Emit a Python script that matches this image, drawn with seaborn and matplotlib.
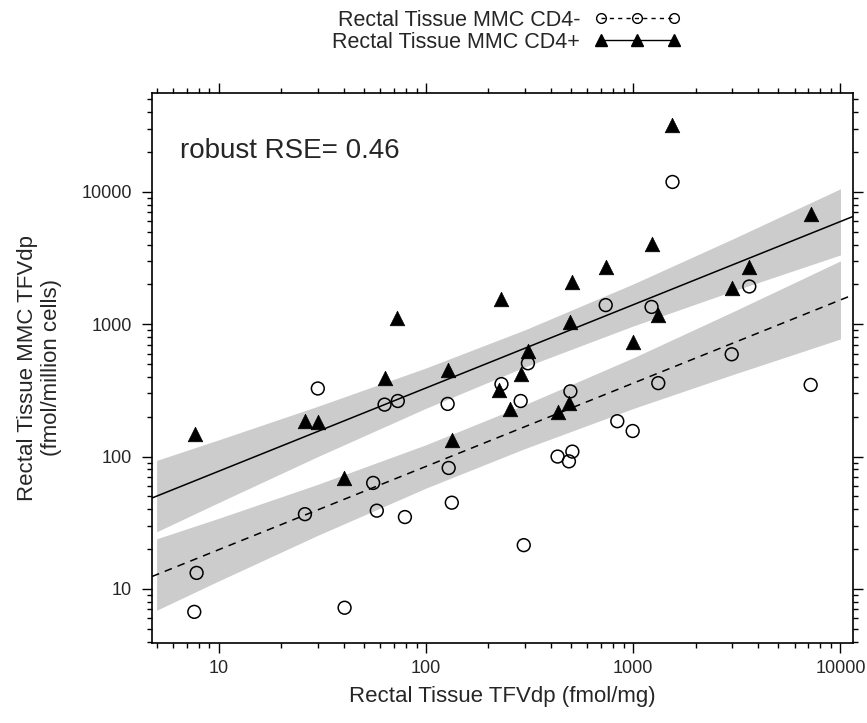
import numpy as np
import seaborn as sns
import matplotlib.pyplot as plt
from matplotlib.lines import Line2D
from matplotlib.ticker import FixedLocator, FixedFormatter, LogLocator, NullFormatter

# CD4- (open circles)
neg_x = [7.8, 7.6, 26, 30, 40.4, 55.5, 57.8, 63, 73, 79,
         127, 128.5, 133, 231, 286, 296, 310, 431, 489, 497,
         508, 736, 837, 993, 1225, 1320, 1546, 2985, 3630, 7180]
neg_y = [13.2, 6.7, 36.7, 327, 7.2, 63.2, 39, 247, 263, 34.9,
         250, 82, 44.8, 353, 263, 21.4, 507, 100, 92, 311,
         109, 1396, 185, 156, 1352, 359, 11900, 593, 1930, 348]

# CD4+ (filled triangles)
pos_x = [7.7, 26, 30, 40, 63, 72.4, 127, 133, 224, 230, 254, 286, 310,
         433, 490, 497, 508, 736, 993, 1225, 1320, 1546, 2985, 3630, 7180]
pos_y = [147, 186, 181, 68.6, 395, 1122, 448, 133, 321, 1563, 230, 420, 627,
         218, 255, 1033, 2070, 2690, 738, 4040, 1172, 31800, 1884, 2690, 6800]

# fitted lines (ends at the panel edges) and their confidence bands
fit_x = [4.75, 11500]
pos_fit = [48.6, 6530]
neg_fit = [12.4, 1668]

band_x = [5, 10, 30, 100, 300, 1000, 3000, 10000]
pos_lo = [27.0, 45.0, 100, 232, 476, 971, 1774, 3342]
pos_hi = [93.5, 134, 240, 468, 908, 2018, 4395, 10570]
neg_lo = [6.89, 11.5, 25.4, 57.8, 115, 231, 415, 774]
neg_hi = [23.9, 34.2, 61.7, 123, 247, 558, 1236, 3013]

tick_vals = [10, 100, 1000, 10000]
tick_labels = ['10', '100', '1000', '10000']
labels = ['Rectal Tissue MMC CD4-', 'Rectal Tissue MMC CD4+']

sns.set_style("ticks")
plt.rcParams['font.family'] = ['Liberation Sans', 'DejaVu Sans']

fig = plt.figure(figsize=(8.67, 7.23), dpi=100)
ax = fig.add_axes([0.1753, 0.1107, 0.8086, 0.7607])
ax.set_xscale('log')
ax.set_yscale('log')

band_col = '#cccccc'
ax.fill_between(band_x, pos_lo, pos_hi, color=band_col, lw=0, zorder=1)
ax.fill_between(band_x, neg_lo, neg_hi, color=band_col, lw=0, zorder=1)

sns.lineplot(x=fit_x, y=pos_fit, ax=ax, color='black', lw=1.1, zorder=2)
sns.lineplot(x=fit_x, y=neg_fit, ax=ax, color='black', lw=1.1,
             linestyle=(0, (5, 4)), zorder=2)

sns.scatterplot(x=neg_x, y=neg_y, ax=ax, marker='o', s=85,
                facecolor='none', edgecolor='black', linewidth=1.1, zorder=3)
sns.scatterplot(x=pos_x, y=pos_y, ax=ax, marker='^', s=110,
                color='black', edgecolor='black', linewidth=0.5, zorder=3)

ax.set_xlim(4.75, 11500)
ax.set_ylim(3.9, 56000)

for axis in (ax.xaxis, ax.yaxis):
    axis.set_major_locator(FixedLocator(tick_vals))
    axis.set_major_formatter(FixedFormatter(tick_labels))
    axis.set_minor_locator(LogLocator(base=10, subs=np.arange(2, 10)))
    axis.set_minor_formatter(NullFormatter())

ax.tick_params(which='both', direction='out', top=True, right=True,
               labeltop=False, labelright=False, width=1, color='black')
ax.tick_params(which='major', length=7.5, labelsize=13)
ax.tick_params(axis='x', which='major', pad=5)
ax.tick_params(axis='y', which='major', pad=7)
ax.tick_params(which='minor', length=3.6)
for sp in ax.spines.values():
    sp.set_linewidth(1.2)
    sp.set_color('black')

ax.set_xlabel('Rectal Tissue TFVdp (fmol/mg)', fontsize=16, labelpad=6)
ax.set_ylabel('Rectal Tissue MMC TFVdp\n(fmol/million cells)', fontsize=16, labelpad=14)

ax.text(0.04, 0.895, 'robust RSE= 0.46', transform=ax.transAxes,
        fontsize=20, va='center', ha='left')

handles = [
    Line2D([], [], color='black', lw=1, linestyle=(0, (3, 3)), marker='o',
           markerfacecolor='none', markeredgecolor='black', markersize=7),
    Line2D([], [], color='black', lw=1, linestyle='-', marker='^',
           markersize=9),
]
fig.legend(handles, labels, loc='center', bbox_to_anchor=(0.584, 0.957),
           frameon=False, markerfirst=False, numpoints=3, handlelength=4.0,
           handletextpad=0.65, fontsize=15.5, labelspacing=0.05, borderpad=0)

fig.savefig('out.png', dpi=100)
